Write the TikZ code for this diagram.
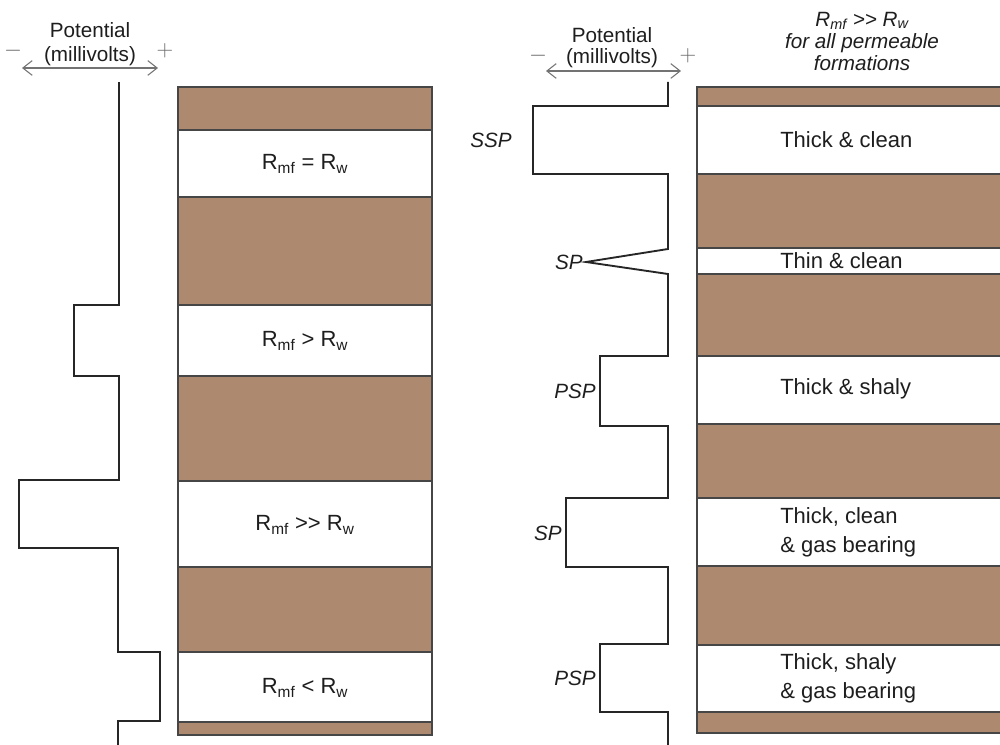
\documentclass[tikz,border=0pt]{standalone}
\usepackage{fontspec}
\setmainfont{Liberation Sans}
\usetikzlibrary{arrows.meta}
\definecolor{shalebrown}{RGB}{173,138,111}
\definecolor{edgegray}{RGB}{70,70,70}
\definecolor{txt}{RGB}{30,30,30}
\begin{document}
\begin{tikzpicture}[x=0.75pt,y=-0.75pt,
  shale/.style={fill=shalebrown,draw=edgegray,line width=0.8pt},
  sand/.style={fill=white,draw=edgegray,line width=0.8pt},
  curve/.style={draw=black!85,line width=1.4pt,line join=miter},
  lbl/.style={font=\fontsize{16.5}{19}\selectfont,text=txt,inner sep=0pt},
  rlbl/.style={font=\fontsize{16.5}{22}\selectfont,text=txt,inner sep=0pt,anchor=west,align=left},
  splbl/.style={font=\fontsize{15.5}{17}\selectfont\itshape,text=txt,inner sep=0pt,anchor=east},
  head/.style={font=\fontsize{15.5}{17}\selectfont,text=txt,inner sep=0pt},
  sign/.style={font=\fontsize{16}{18}\selectfont,text=black!60,inner sep=0pt},
  axis/.style={draw=black!55,line width=0.8pt,{Straight Barb[length=7pt,width=11pt]}-{Straight Barb[length=7pt,width=11pt]}}
]
\useasboundingbox (0,0) rectangle (1000,745);

% ---------- left column ----------
\draw[shale] (178,87) rectangle (432,130);
\draw[sand]  (178,130) rectangle (432,197);
\draw[shale] (178,197) rectangle (432,305);
\draw[sand]  (178,305) rectangle (432,376);
\draw[shale] (178,376) rectangle (432,481);
\draw[sand]  (178,481) rectangle (432,567);
\draw[shale] (178,567) rectangle (432,652);
\draw[sand]  (178,652) rectangle (432,722);
\draw[shale] (178,722) rectangle (432,735);

\node[lbl] (l1) at (305,164) {R\textsubscript{mf} = R\textsubscript{w}};
\node[lbl] (l2) at (305,341) {R\textsubscript{mf} > R\textsubscript{w}};
\node[lbl] (l3) at (305,525) {R\textsubscript{mf} {>}{>} R\textsubscript{w}};
\node[lbl] (l4) at (305,688) {R\textsubscript{mf} < R\textsubscript{w}};

\node[head] (lp) at (90,30) {Potential};
\node[head] (lm) at (90,56) {(millivolts)};
\node[sign] (lminus) at (13,51) {$-$};
\node[sign] (lplus) at (165,51) {$+$};
\coordinate (la1) at (22,68);
\coordinate (la2) at (158,68);
\draw[axis] (la1) -- (la2);

\draw[curve] (119,82) -- (119,305) -- (74,305) -- (74,376) -- (119,376)
  -- (119,480) -- (19,480) -- (19,548) -- (118,548) -- (118,652)
  -- (160,652) -- (160,721) -- (118,721) -- (118,745);

% ---------- right column ----------
\draw[shale] (697,87) rectangle (1002,106);
\draw[sand]  (697,106) rectangle (1002,174);
\draw[shale] (697,174) rectangle (1002,248);
\draw[sand]  (697,248) rectangle (1002,274);
\draw[shale] (697,274) rectangle (1002,356);
\draw[sand]  (697,356) rectangle (1002,424);
\draw[shale] (697,424) rectangle (1002,498);
\draw[sand]  (697,498) rectangle (1002,566);
\draw[shale] (697,566) rectangle (1002,645);
\draw[sand]  (697,645) rectangle (1002,712);
\draw[shale] (697,712) rectangle (1002,733);

\node[rlbl] (r1) at (780,140) {Thick \& clean};
\node[rlbl] (r2) at (780,261) {Thin \& clean};
\node[rlbl] (r3) at (780,389) {Thick \& shaly};
\node[rlbl] (r4) at (780,532) {Thick, clean\\\& gas bearing};
\node[rlbl] (r5) at (780,678) {Thick, shaly\\\& gas bearing};

\node[head] (rp) at (612,35) {Potential};
\node[head] (rm) at (612,58) {(millivolts)};
\node[sign] (rminus) at (538,56) {$-$};
\node[sign] (rplus) at (688,56) {$+$};
\coordinate (ra1) at (546,71);
\coordinate (ra2) at (681,71);
\draw[axis] (ra1) -- (ra2);

\node[font=\fontsize{15.5}{16.5}\selectfont\itshape,text=txt,align=center,inner sep=0pt] (rt) at (862,41)
  {R\textsubscript{mf} {>}{>} R\textsubscript{w}\\for all permeable\\formations};

\draw[curve] (668,82) -- (668,106) -- (533,106) -- (533,174) -- (668,174)
  -- (668,249) -- (586,262) -- (668,274) -- (668,356) -- (600,356)
  -- (600,426) -- (668,426) -- (668,498) -- (566,498) -- (566,567)
  -- (668,567) -- (668,644) -- (600,644) -- (600,712) -- (668,712) -- (668,745);

\node[splbl] (ssp) at (512,140) {SSP};
\node[splbl] (sp1) at (583,262) {SP};
\node[splbl] (psp1) at (596,391) {PSP};
\node[splbl] (sp2) at (562,533) {SP};
\node[splbl] (psp2) at (596,678) {PSP};
\end{tikzpicture}
\end{document}
